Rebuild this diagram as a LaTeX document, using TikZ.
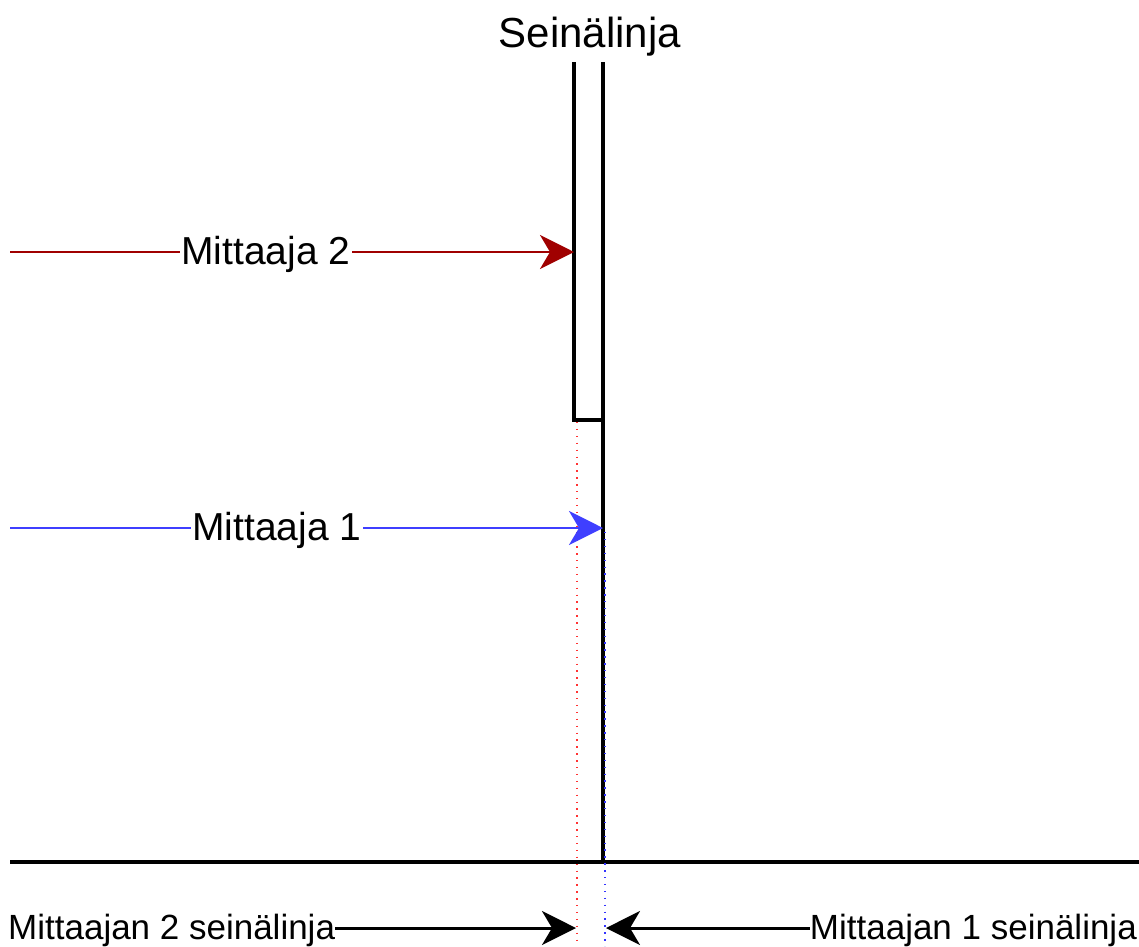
\documentclass[tikz,border=0pt]{standalone}
\usepackage{fontspec}
\setmainfont{Liberation Sans}
\usetikzlibrary{arrows.meta}
\definecolor{darkred}{HTML}{A00000}
\definecolor{measblue}{HTML}{3F3FFF}
\begin{document}
\begin{tikzpicture}[x=1pt,y=-1pt,
  wallline/.style={line width=3.4pt, black},
  bighead/.style={-{Stealth[length=34pt,width=34pt,inset=10pt]}},
  redarr/.style={draw=darkred, line width=2.8pt, bighead},
  bluearr/.style={draw=measblue, line width=2.8pt, bighead},
  blackarr/.style={draw=black, line width=3pt, bighead},
  arrlabel/.style={fill=white, inner sep=1pt, font=\fontsize{39}{46}\selectfont},
  bottomlabel/.style={inner sep=0pt, font=\fontsize{35}{42}\selectfont},
  reddot/.style={draw=red!80, line width=1.4pt, dash pattern=on 1.4pt off 5.5pt},
  bluedot/.style={draw=blue!80, line width=1.4pt, dash pattern=on 1.4pt off 5.5pt},
]
\useasboundingbox (0,0) rectangle (1139,946);

% title
\node[anchor=base, inner sep=0pt, font=\fontsize{42}{50}\selectfont] (title) at (590,47) {Seinälinja};

% wall
\coordinate (wlt) at (574,62);
\coordinate (wlb) at (574,420);
\coordinate (wrt) at (603,62);
\coordinate (wrm) at (603,420);
\coordinate (wrb) at (603,862);
\draw[wallline] (wlt) -- (wlb) -- (wrm);
\draw[wallline] (wrt) -- (wrb);

% ground line
\coordinate (gl) at (10,862);
\coordinate (gr) at (1139,862);
\draw[wallline] (gl) -- (gr);

% dotted wall lines
\coordinate (r1) at (577,422);
\coordinate (r2) at (577,946);
\coordinate (b1) at (605,532);
\coordinate (b2) at (605,946);
\draw[reddot] (r1) -- (r2);
\draw[bluedot] (b1) -- (b2);

% measurer 2 arrow
\coordinate (a2s) at (10,252);
\coordinate (a2e) at (574,252);
\draw[redarr] (a2s) -- (a2e);
\node[arrlabel] (m2) at (266,254) {Mittaaja 2};

% measurer 1 arrow
\coordinate (a1s) at (10,528);
\coordinate (a1e) at (603,528);
\draw[bluearr] (a1s) -- (a1e);
\node[arrlabel] (m1) at (277,530) {Mittaaja 1};

% bottom labels
\node[bottomlabel, anchor=base west] (lt) at (8,939) {Mittaajan 2 seinälinja};
\node[bottomlabel, anchor=base east] (rt) at (1137,939) {Mittaajan 1 seinälinja};
\coordinate (bl) at (576,928);
\coordinate (br) at (606,928);
\draw[blackarr] (lt.east |- bl) -- (bl);
\draw[blackarr] (rt.west |- br) -- (br);
\end{tikzpicture}
\end{document}
